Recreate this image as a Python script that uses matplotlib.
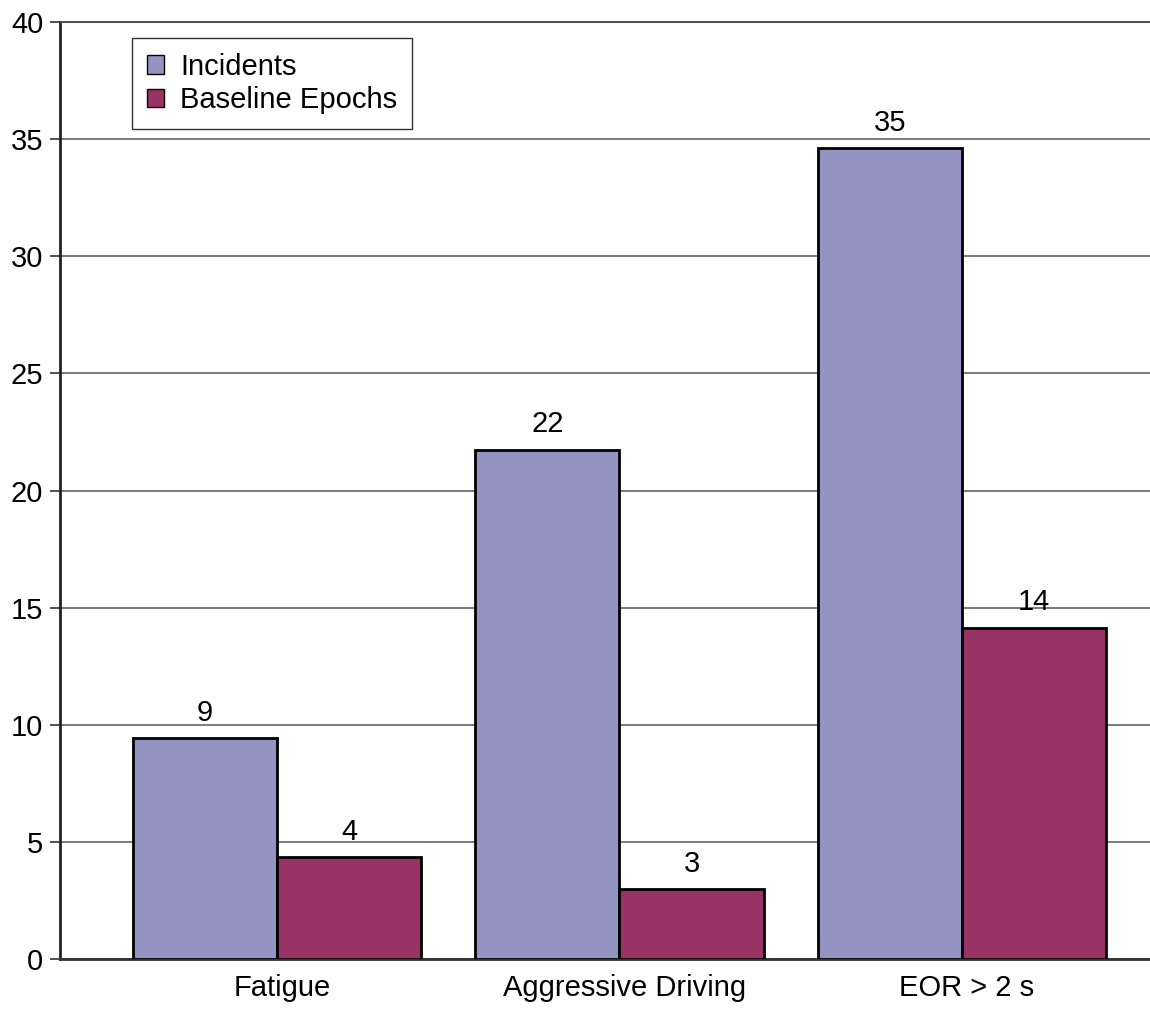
import matplotlib
matplotlib.use("Agg")
import matplotlib.pyplot as plt
import matplotlib.transforms as mtransforms
import numpy as np
from matplotlib.patches import Patch

categories = ["Fatigue", "Aggressive Driving", "EOR > 2 s"]
incidents = [9.45, 21.75, 34.6]
baseline = [4.35, 3.0, 14.15]
incident_labels = ["9", "22", "35"]
baseline_labels = ["4", "3", "14"]
yticks = [0, 5, 10, 15, 20, 25, 30, 35, 40]

plt.rcParams['font.family'] = ['Liberation Sans', 'DejaVu Sans']
FS = 21

fig = plt.figure(figsize=(11.5, 10.11), dpi=100)
ax = fig.add_axes([60/1150, 52/1011, 1 - 60/1150 + 0.001, 937/1011])

c_inc = "#9494C2"
c_base = "#993366"
w = 0.421
x = np.arange(len(categories))

ax.bar(x - w/2, incidents, w, color=c_inc, edgecolor="black", linewidth=2, zorder=3)
ax.bar(x + w/2, baseline, w, color=c_base, edgecolor="black", linewidth=2, zorder=3)

for xi, v, lab in zip(x - w/2, incidents, incident_labels):
    ax.annotate(lab, (xi, v), xytext=(0, 8), textcoords="offset points",
                ha="center", va="bottom", fontsize=FS)
for xi, v, lab in zip(x + w/2, baseline, baseline_labels):
    ax.annotate(lab, (xi, v), xytext=(0, 8), textcoords="offset points",
                ha="center", va="bottom", fontsize=FS)

ax.set_xlim(-0.634, 2.553)
ax.set_ylim(0, 40)
ax.set_yticks(yticks)
ax.set_yticklabels([str(t) for t in yticks], fontsize=FS)
ax.set_xticks(x)
ax.set_xticklabels(categories, fontsize=FS)
ax.tick_params(axis="x", length=0, pad=11)
ax.tick_params(axis="y", length=7, width=1.2, color="#333333", direction="out", pad=5)

shift = mtransforms.ScaledTranslation(5/100, 0, fig.dpi_scale_trans)
for lbl in ax.get_xticklabels():
    lbl.set_transform(lbl.get_transform() + shift)

ax.yaxis.grid(True, color="#555555", linewidth=1.1, zorder=0)
ax.set_axisbelow(True)
ax.spines["right"].set_visible(False)
ax.spines["top"].set_color("#444444")
ax.spines["top"].set_linewidth(1.3)
ax.spines["left"].set_color("#222222")
ax.spines["left"].set_linewidth(2)
ax.spines["bottom"].set_color("#333333")
ax.spines["bottom"].set_linewidth(2)

handles = [Patch(facecolor=c_inc, edgecolor="black", linewidth=1, label="Incidents"),
           Patch(facecolor=c_base, edgecolor="black", linewidth=1, label="Baseline Epochs")]
leg = ax.legend(handles=handles, loc="upper left", bbox_to_anchor=(72/1090, 1 - 16/937),
                fontsize=FS, frameon=True, fancybox=False, edgecolor="black",
                handlelength=0.6, handleheight=0.6, handletextpad=0.55,
                borderpad=0.5, labelspacing=0.2, borderaxespad=0)
leg.get_frame().set_linewidth(1)

fig.savefig("out.png", dpi=100)
